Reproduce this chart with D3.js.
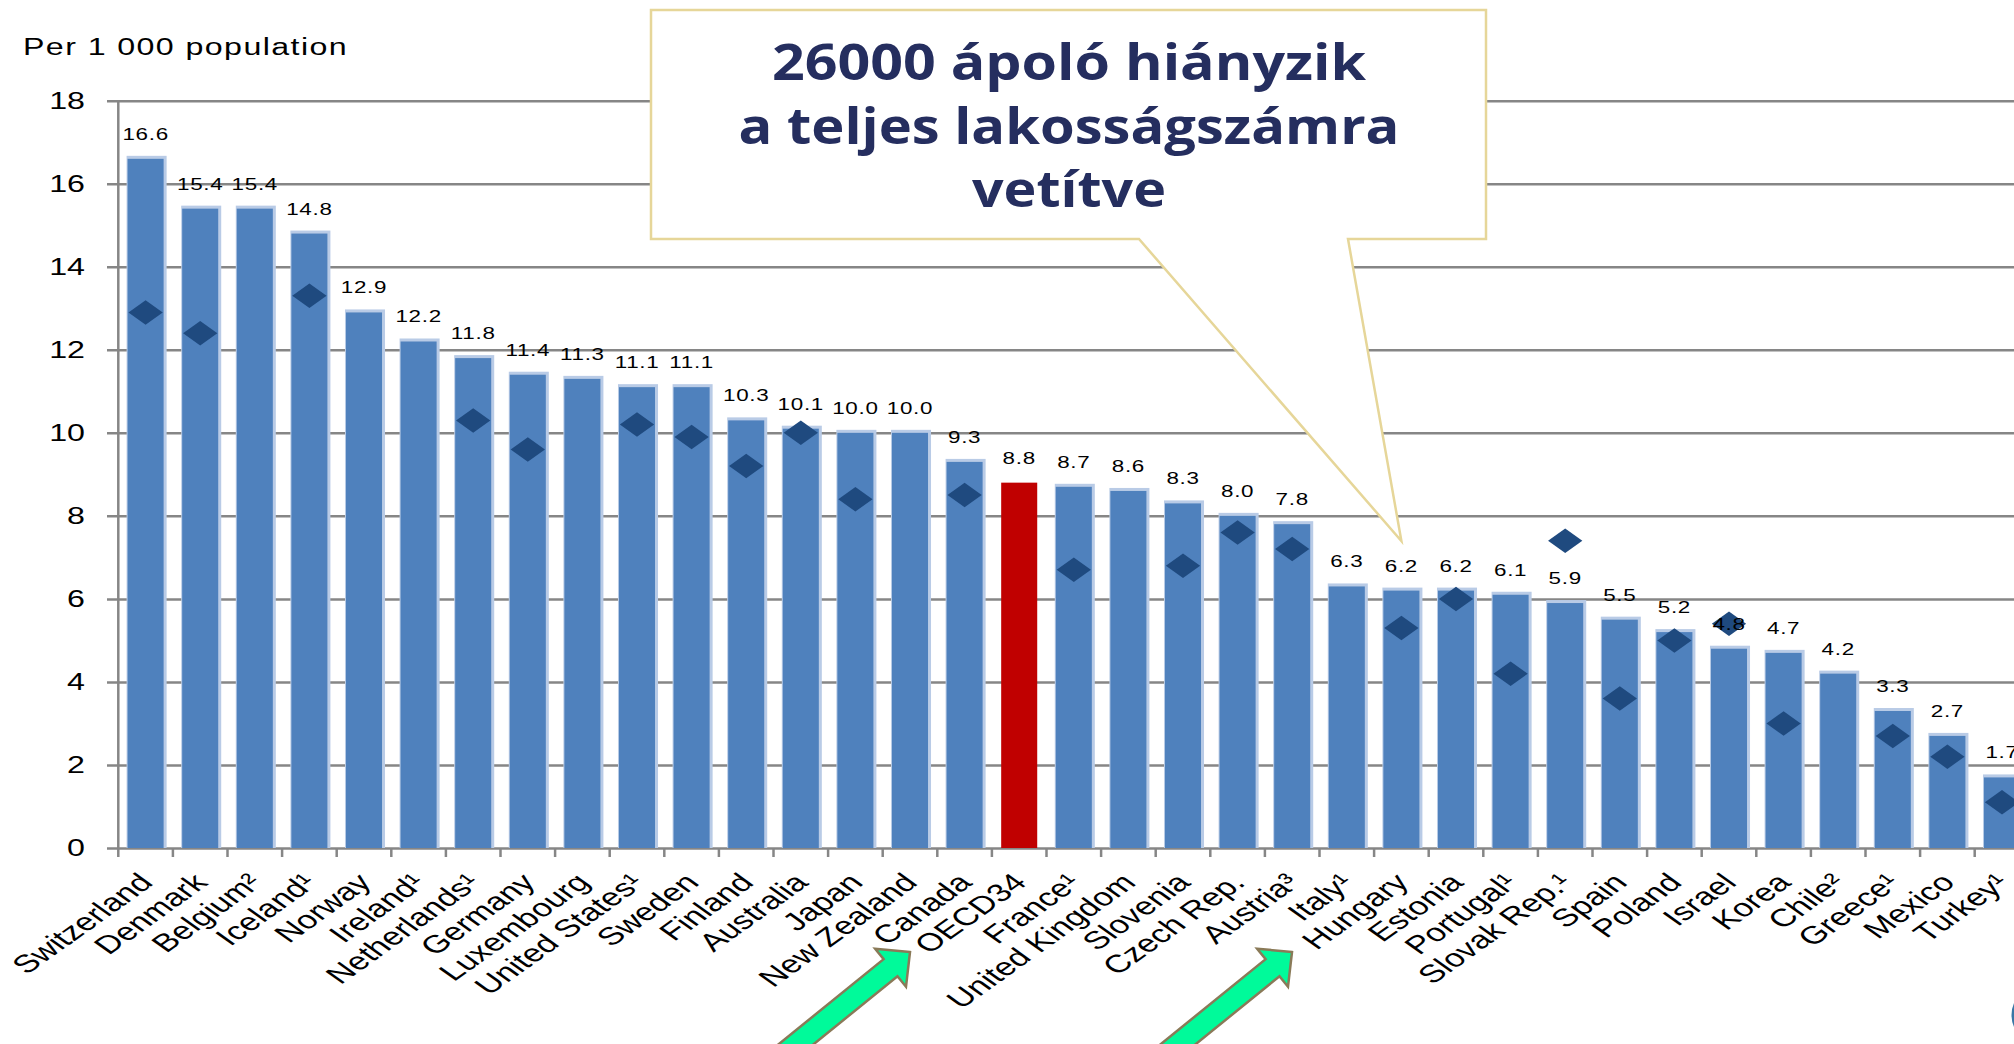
<!DOCTYPE html>
<html>
<head>
<meta charset="utf-8">
<script src="https://cdn.jsdelivr.net/npm/d3@7"></script>
<style>
  body { margin: 0; background: #fff; }
  svg { display: block; }
</style>
</head>
<body>
<div id="chart"></div>
<script>
var width = 2014,
    height = 1044;

// practising nurses per 1 000 population (bars, 2011) and the earlier year (diamonds, 2000)
var countries = ["Switzerland", "Denmark", "Belgium²", "Iceland¹", "Norway", "Ireland¹", "Netherlands¹",
    "Germany", "Luxembourg", "United States¹", "Sweden", "Finland", "Australia", "Japan", "New Zealand",
    "Canada", "OECD34", "France¹", "United Kingdom", "Slovenia", "Czech Rep.", "Austria³", "Italy¹",
    "Hungary", "Estonia", "Portugal¹", "Slovak Rep.¹", "Spain", "Poland", "Israel", "Korea", "Chile²",
    "Greece¹", "Mexico", "Turkey¹"];
var nurses2011 = [16.6, 15.4, 15.4, 14.8, 12.9, 12.2, 11.8, 11.4, 11.3, 11.1, 11.1, 10.3, 10.1, 10.0, 10.0,
    9.3, 8.8, 8.7, 8.6, 8.3, 8.0, 7.8, 6.3, 6.2, 6.2, 6.1, 5.9, 5.5, 5.2, 4.8, 4.7, 4.2, 3.3, 2.7, 1.7];
var nurses2000 = [12.9, 12.4, null, 13.3, null, null, 10.3, 9.6, null, 10.2, 9.9, 9.2, 10.0, 8.4, null,
    8.5, null, 6.7, null, 6.8, 7.6, 7.2, null, 5.3, 6.0, 4.2, 7.4, 3.6, 5.0, 5.4, 3.0, null, 2.7, 2.2, 1.1];
var yTicks = [0, 2, 4, 6, 8, 10, 12, 14, 16, 18];
var highlight = "OECD34";
var unitLabel = "Per 1 000 population";
var calloutLines = ["26000 ápoló hiányzik", "a teljes lakosságszámra", "vetítve"];

var stretch = 1.4; // the slide picture is pulled wide

var svg = d3.select("#chart").append("svg")
    .attr("width", width)
    .attr("height", height);

var axisX = 118.3, step = 54.6;

var x = d3.scaleBand()
    .domain(countries)
    .range([axisX, axisX + countries.length * step])
    .paddingInner(0.34)
    .paddingOuter(0.17);

var y = d3.scaleLinear()
    .domain([0, 18])
    .range([848, 100.7]);

var data = countries.map(function (c, i) {
    return {name: c, v: nurses2011[i], old: nurses2000[i]};
});

// gridlines
var grid = d3.axisRight(y).tickValues(yTicks).tickSize(width - 107).tickFormat("");
svg.append("g")
    .attr("transform", "translate(107,0)")
    .call(grid)
    .call(function (g) { g.select(".domain").remove(); })
    .selectAll("line")
    .attr("stroke", "#868686")
    .attr("stroke-width", 2.5);

// y axis line
svg.append("line")
    .attr("x1", axisX).attr("x2", axisX)
    .attr("y1", y(18)).attr("y2", y(0) + 9)
    .attr("stroke", "#868686")
    .attr("stroke-width", 2.5);

// x ticks between categories
svg.selectAll("line.xtick")
    .data(countries.slice(1))
    .enter().append("line")
    .attr("class", "xtick")
    .attr("x1", function (d) { return x(d) - x.step() * x.paddingInner() / 2; })
    .attr("x2", function (d) { return x(d) - x.step() * x.paddingInner() / 2; })
    .attr("y1", y(0))
    .attr("y2", y(0) + 9)
    .attr("stroke", "#868686")
    .attr("stroke-width", 2.5);

// y tick labels
svg.selectAll("text.ytick")
    .data(yTicks)
    .enter().append("text")
    .attr("class", "ytick")
    .attr("transform", function (d) { return "translate(85," + y(d) + ") scale(" + stretch + ",1)"; })
    .attr("dy", "0.36em")
    .attr("text-anchor", "end")
    .style("font-family", "'Liberation Sans', Arial, sans-serif")
    .style("font-size", "23px")
    .text(function (d) { return d; });

svg.append("text")
    .attr("transform", "translate(23,55) scale(" + stretch + ",1)")
    .style("font-family", "'Liberation Sans', Arial, sans-serif")
    .style("font-size", "23px")
    .style("letter-spacing", "1px")
    .text(unitLabel);

// bars with light edge
svg.selectAll("rect.edge")
    .data(data.filter(function (d) { return d.name !== highlight; }))
    .enter().append("rect")
    .attr("class", "edge")
    .attr("x", function (d) { return x(d.name) - 1; })
    .attr("y", function (d) { return y(d.v) - 3; })
    .attr("width", x.bandwidth() + 4)
    .attr("height", function (d) { return y(0) - y(d.v) + 3; })
    .style("fill", "#b9cbe6");

svg.selectAll("rect.bar")
    .data(data)
    .enter().append("rect")
    .attr("class", "bar")
    .attr("x", function (d) { return x(d.name); })
    .attr("y", function (d) { return y(d.v); })
    .attr("width", x.bandwidth())
    .attr("height", function (d) { return y(0) - y(d.v); })
    .style("fill", function (d) { return d.name === highlight ? "#c00000" : "#4f81bd"; });

// diamonds
svg.selectAll("path.dot")
    .data(data.filter(function (d) { return d.old !== null; }))
    .enter().append("path")
    .attr("class", "dot")
    .attr("d", d3.symbol().type(d3.symbolSquare).size(300))
    .attr("transform", function (d) {
        return "translate(" + (x(d.name) + x.bandwidth() / 2) + "," + y(d.old) + ") scale(" + stretch + ",1) rotate(45)";
    })
    .style("fill", "#1f4a7f");

// value labels
svg.selectAll("text.val")
    .data(data)
    .enter().append("text")
    .attr("class", "val")
    .attr("transform", function (d) {
        return "translate(" + (x(d.name) + x.bandwidth() / 2) + "," + (y(d.v) - 19) + ") scale(" + stretch + ",1)";
    })
    .attr("text-anchor", "middle")
    .style("font-family", "'Liberation Sans', Arial, sans-serif")
    .style("font-size", "16px")
    .style("letter-spacing", "0.5px")
    .text(function (d) { return d.v.toFixed(1); });

// category labels
svg.selectAll("text.cat")
    .data(countries)
    .enter().append("text")
    .attr("class", "cat")
    .attr("transform", function (d) {
        return "translate(" + (x(d) + x.bandwidth() / 2 + 9) + "," + (y(0) + 36) + ") scale(" + stretch + ",1) rotate(-45)";
    })
    .attr("text-anchor", "end")
    .style("font-family", "'Liberation Sans', Arial, sans-serif")
    .style("font-size", "25px")
    .text(function (d) { return d; });

// callout
var tipX = x("Hungary") + x.bandwidth() / 2;
svg.append("path")
    .attr("d", "M651,10 H1486 V239 H1348 L" + tipX + ",541 L1139,239 H651 Z")
    .style("fill", "#fff")
    .style("stroke", "#e6d699")
    .style("stroke-width", 2.5);

var lineWidths = [594, 661, 194];
svg.selectAll("text.callout")
    .data(calloutLines)
    .enter().append("text")
    .attr("class", "callout")
    .attr("x", 1069)
    .attr("y", function (d, i) { return 80 + i * 63.5; })
    .attr("text-anchor", "middle")
    .attr("textLength", function (d, i) { return lineWidths[i]; })
    .attr("lengthAdjust", "spacingAndGlyphs")
    .style("font-family", "'Open Sans', sans-serif")
    .style("font-weight", 700)
    .style("font-size", "50px")
    .style("fill", "#252e5f")
    .text(function (d) { return d; });

// green arrows pointing at OECD34 and Italy labels
var arrowShape = [[0, 0], [-25, -24.5], [-25, -11], [-190, -11], [-190, 11], [-25, 11], [-25, 24.5]];
var arrowTips = [[910, 952], [1292, 952]];
svg.selectAll("polygon.arrow")
    .data(arrowTips)
    .enter().append("polygon")
    .attr("class", "arrow")
    .attr("points", arrowShape.map(function (p) { return p.join(","); }).join(" "))
    .attr("transform", function (d) { return "translate(" + d[0] + "," + d[1] + ") rotate(-39)"; })
    .style("fill", "#00fa9a")
    .style("stroke", "#8a7a58")
    .style("stroke-width", 2.5)
    .style("stroke-linejoin", "miter");

// partial logo circle at the corner
svg.append("circle")
    .attr("cx", 2041).attr("cy", 1015).attr("r", 28)
    .style("fill", "#fff")
    .style("stroke", "#3a77a6")
    .style("stroke-width", 3);
</script>
</body>
</html>
